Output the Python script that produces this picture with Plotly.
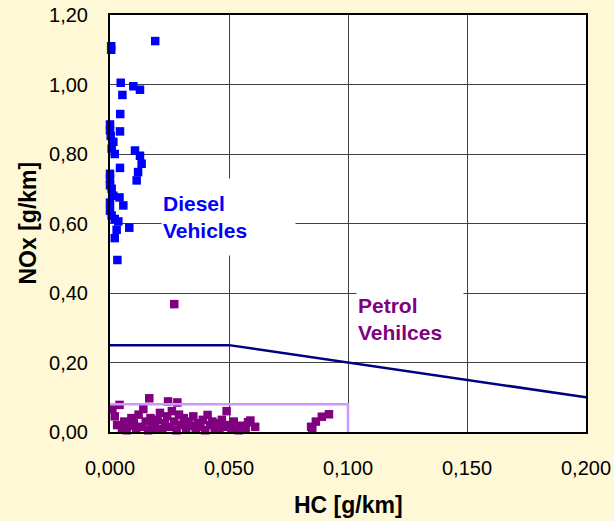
import plotly.graph_objects as go

# Diesel vehicles (HC g/km, NOx g/km)
diesel_hc = [0.019, 0.0005, 0.0005, 0.0045, 0.0098, 0.0126, 0.0052, 0.0043, 0.0, 0.0, 0.0042,
             0.0003, 0.0014, 0.0007, 0.002, 0.0105, 0.0126, 0.0133, 0.0042, 0.0118, 0.0112,
             0.0, 0.0, 0.0, 0.0007, 0.0014, 0.004, 0.0056, 0.0, 0.0, 0.0007, 0.002, 0.0035,
             0.0081, 0.0028, 0.002, 0.0031]
diesel_nox = [1.125, 1.11, 1.10, 1.005, 0.995, 0.985, 0.97, 0.915, 0.885, 0.868, 0.865,
              0.852, 0.835, 0.815, 0.80, 0.81, 0.795, 0.772, 0.76, 0.748, 0.724,
              0.743, 0.728, 0.71, 0.70, 0.68, 0.675, 0.652, 0.66, 0.637, 0.623, 0.613, 0.606,
              0.588, 0.582, 0.558, 0.495]

# Petrol vehicles (HC g/km, NOx g/km)
petrol_hc = [0.001, 0.004, 0.002, 0.003, 0.005, 0.006, 0.007, 0.008, 0.009, 0.010, 0.011,
             0.012, 0.013, 0.014, 0.015, 0.0165, 0.016, 0.017, 0.018, 0.019, 0.020, 0.021,
             0.022, 0.023, 0.0244, 0.024, 0.025, 0.026, 0.027, 0.0283, 0.028, 0.029, 0.030,
             0.031, 0.032, 0.033, 0.034, 0.035, 0.036, 0.037, 0.038, 0.039, 0.040, 0.041,
             0.042, 0.043, 0.044, 0.045, 0.046, 0.047, 0.048, 0.049, 0.050, 0.051, 0.052,
             0.054, 0.055, 0.057, 0.058, 0.059, 0.061, 0.0845, 0.085, 0.0865, 0.089, 0.092,
             0.027]
petrol_nox = [0.065, 0.078, 0.045, 0.020, 0.010, 0.030, 0.005, 0.018, 0.040, 0.025, 0.008,
              0.050, 0.015, 0.066, 0.030, 0.097, 0.005, 0.040, 0.020, 0.012, 0.035, 0.055,
              0.008, 0.025, 0.088, 0.045, 0.015, 0.060, 0.030, 0.085, 0.005, 0.050, 0.020,
              0.040, 0.010, 0.030, 0.018, 0.045, 0.008, 0.025, 0.015, 0.035, 0.005, 0.049,
              0.020, 0.030, 0.012, 0.025, 0.008, 0.035, 0.015, 0.060, 0.020, 0.010, 0.030,
              0.005, 0.018, 0.011, 0.028, 0.033, 0.015, 0.015, 0.008, 0.030, 0.044, 0.051,
              0.368]

# Limit lines
diesel_limit_hc = [0.0, 0.05, 0.2]
diesel_limit_nox = [0.25, 0.25, 0.10]
petrol_limit_hc = [0.0, 0.1, 0.1]
petrol_limit_nox = [0.08, 0.08, 0.0]

x_ticks = [0.0, 0.05, 0.10, 0.15, 0.20]
y_ticks = [0.0, 0.2, 0.4, 0.6, 0.8, 1.0, 1.2]

FONT = "Liberation Sans, Arial, sans-serif"

fig = go.Figure()
fig.add_trace(go.Scatter(x=diesel_hc, y=diesel_nox, mode="markers",
                         marker=dict(symbol="square", size=8.5, color="#0000FF"),
                         cliponaxis=False, showlegend=False))
fig.add_trace(go.Scatter(x=petrol_hc, y=petrol_nox, mode="markers",
                         marker=dict(symbol="square", size=8.5, color="#800080"),
                         cliponaxis=False, showlegend=False))
fig.add_trace(go.Scatter(x=diesel_limit_hc, y=diesel_limit_nox, mode="lines",
                         line=dict(color="#000080", width=2.5),
                         cliponaxis=False, showlegend=False))
fig.add_trace(go.Scatter(x=petrol_limit_hc, y=petrol_limit_nox, mode="lines",
                         line=dict(color="#CC99FF", width=2.5),
                         cliponaxis=False, showlegend=False))

fig.add_annotation(x=0.0214, y=0.62, xref="x", yref="y", xanchor="left", yanchor="middle",
                   text="<b>Diesel<br>Vehicles</b>", showarrow=False, align="left",
                   font=dict(family=FONT, size=21, color="#0000FF"),
                   bgcolor="white", width=131, height=74, borderpad=1)
fig.add_annotation(x=0.1035, y=0.325, xref="x", yref="y", xanchor="left", yanchor="middle",
                   text="<b>Petrol<br>Vehilces</b>", showarrow=False, align="left",
                   font=dict(family=FONT, size=21, color="#800080"),
                   bgcolor="white", width=104, height=74, borderpad=1)

# Axis titles
fig.add_annotation(x=0, y=0.5, xref="paper", yref="paper", xanchor="center", yanchor="middle",
                   xshift=-83, textangle=-90, showarrow=False,
                   text="<b>NOx [g/km]</b>", font=dict(family=FONT, size=23, color="black"))
fig.add_annotation(x=0.5, y=0, xref="paper", yref="paper", xanchor="center", yanchor="middle",
                   yshift=-73, showarrow=False,
                   text="<b>HC [g/km]</b>", font=dict(family=FONT, size=23, color="black"))

fig.update_layout(
    width=614, height=521,
    margin=dict(l=110, r=28, t=15, b=89),
    paper_bgcolor="#FFF8D6",
    plot_bgcolor="white",
    separators=", ",
    font=dict(family=FONT, size=20, color="black"),
    showlegend=False,
)
fig.update_xaxes(range=[0, 0.2], tickvals=x_ticks, tickformat=".3f",
                 showgrid=True, gridcolor="#404040", gridwidth=1,
                 showline=True, linecolor="black", linewidth=2, mirror=True,
                 ticks="", ticklabelstandoff=17, zeroline=False, automargin=False)
fig.update_yaxes(range=[0, 1.2], tickvals=y_ticks, tickformat=".2f",
                 showgrid=True, gridcolor="#404040", gridwidth=1,
                 showline=True, linecolor="black", linewidth=2, mirror=True,
                 ticks="", ticklabelstandoff=16, zeroline=False, automargin=False)

fig.write_html("out.html",
               config={"displayModeBar": False},
               post_script="document.body.style.margin='0px';"
                           "document.body.style.background='#FFF8D6';")
